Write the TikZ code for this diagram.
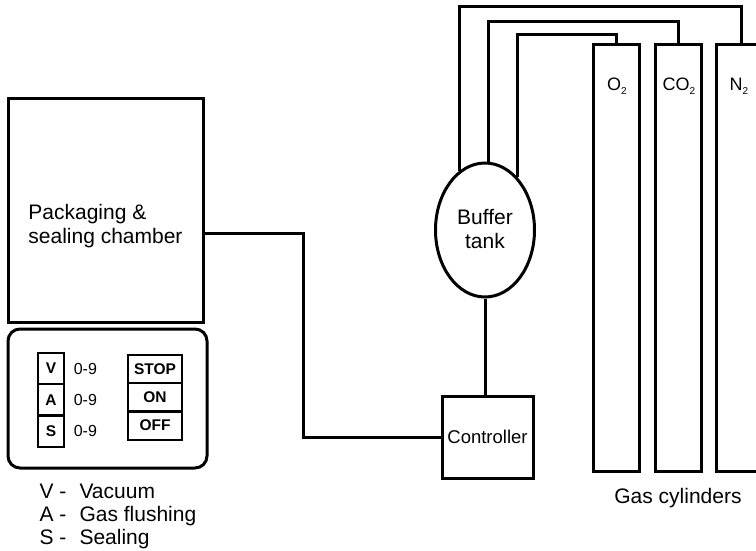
\documentclass[tikz,border=0pt]{standalone}
\usepackage{fontspec}
\setmainfont{Liberation Sans}
\usetikzlibrary{positioning,shapes.geometric}

\newcommand{\lowtwo}{\raisebox{-0.5ex}{\fontsize{10}{12}\selectfont 2}}

\tikzset{
  unit/.style={draw, line width=3pt, inner sep=0pt},
  pipe/.style={line width=3pt},
  big/.style={font=\fontsize{21}{24}\selectfont},
  small/.style={font=\fontsize{16}{18}\selectfont},
  key/.style={draw, line width=2.5pt, minimum width=26pt, minimum height=31.3pt, inner sep=0pt, font=\fontsize{15.5}{18}\selectfont\bfseries},
  btn/.style={draw, line width=2.5pt, minimum width=54pt, minimum height=28.3pt, inner sep=0pt, font=\fontsize{15.5}{18}\selectfont\bfseries},
  cyl/.style={draw, line width=3pt, minimum width=46pt, minimum height=427pt, inner sep=0pt},
  gas/.style={font=\fontsize{18}{20}\selectfont, anchor=base},
}

\begin{document}
\begin{tikzpicture}[x=1pt,y=-1pt]
\useasboundingbox (0,0) rectangle (756,550);

% chamber and its control panel
\node[unit, minimum width=195pt, minimum height=224pt] (chamber) at (105.5,210) {};
\node[big, align=left] (chambertxt) at (105.5,226) {Packaging \&\\sealing chamber};
\node[unit, rounded corners=12pt, minimum width=199pt, minimum height=139pt] (panel) at (107.5,398.5) {};

\node[key] (keyV) at (51,368.5) {V};
\node[key, below=-2.5pt of keyV] (keyA) {A};
\node[key, below=-2.5pt of keyA] (keyS) {S};
\node[small, right=5pt of keyV] (rangeV) {0-9};
\node[small, right=5pt of keyA] (rangeA) {0-9};
\node[small, right=5pt of keyS] (rangeS) {0-9};

\node[btn] (stop) at (155,369) {STOP};
\node[btn, below=-2.5pt of stop] (on) {ON};
\node[btn, below=-2.5pt of on] (off) {OFF};

% legend
\node[big, anchor=base west] (legV) at (36,498) {V -};
\node[big, anchor=base west] (legVtxt) at (76,498) {Vacuum};
\node[big, anchor=base west] (legA) at (36,521) {A -};
\node[big, anchor=base west] (legAtxt) at (76,521) {Gas flushing};
\node[big, anchor=base west] (legS) at (36,544) {S -};
\node[big, anchor=base west] (legStxt) at (76,544) {Sealing};

% buffer tank and controller
\node[unit, ellipse, minimum width=99pt, minimum height=134pt] (buffer) at (485,230) {};
\node[big, align=center] (buffertxt) at (485,229) {Buffer\\tank};
\node[unit, font=\fontsize{18.5}{22}\selectfont, minimum width=91pt, minimum height=82pt] (ctrl) at (487.5,437) {Controller};

% gas cylinders
\node[cyl] (o2) at (616,257.5) {};
\node[cyl] (co2) at (678.5,257.5) {};
\node[cyl] (n2) at (739,257.5) {};
\node[gas] (o2txt) at (617,90) {O\lowtwo};
\node[gas] (co2txt) at (679,90) {CO\lowtwo};
\node[gas] (n2txt) at (739,90) {N\lowtwo};
\node[big, anchor=base] (gaslbl) at (678,503) {Gas cylinders};

% pipes
\coordinate (hiN) at (0,6);
\coordinate (hiC) at (0,21);
\coordinate (hiO) at (0,34);
\draw[pipe] (buffer.113) -- (buffer.113 |- hiN) -| ([xshift=2pt]n2.north);
\draw[pipe] ([xshift=3pt]buffer.north) -- ([xshift=3pt]buffer.north |- hiC) -| (co2.north);
\draw[pipe] (buffer.59) -- (buffer.59 |- hiO) -| (o2.north);
\draw[pipe] (buffer.south) -- (buffer.south |- ctrl.north);
\draw[pipe] ([yshift=-23pt]chamber.east) -- ++(99,0) |- (ctrl.west);

\end{tikzpicture}
\end{document}
